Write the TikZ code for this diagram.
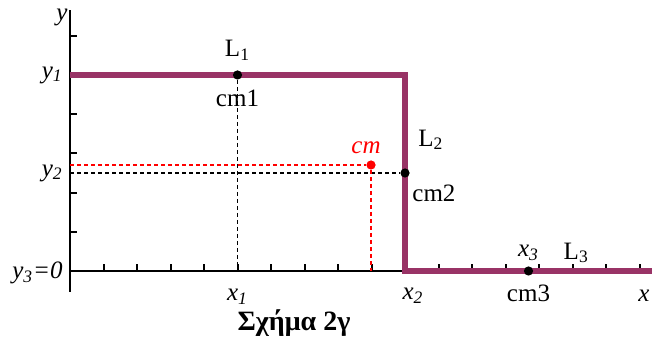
\documentclass[tikz,border=0pt]{standalone}
\usepackage{fontspec}
\setmainfont{Liberation Serif}
\usetikzlibrary{positioning}
\definecolor{rodpurple}{RGB}{153,51,102}
\definecolor{cmred}{RGB}{255,0,0}
\tikzset{
  axis/.style={
    line width=1.4pt
  },
  ticmark/.style={
    line width=1pt
  },
  rod/.style={
    draw=rodpurple,
    line width=3pt,
    line join=miter
  },
  guide/.style={
    dash pattern=on 2.2pt off 1.3pt,
    line width=0.75pt
  },
  masspoint/.style={
    circle,
    fill,
    inner sep=0pt,
    minimum size=4.6pt
  },
  lbl/.style={
    font=\fontsize{12.5}{14}\selectfont,
    inner sep=1pt
  }
}

\begin{document}
\begin{tikzpicture}[x=0.5pt,y=0.5pt]
\useasboundingbox (-70,-76) rectangle (582,271);

\coordinate (O) at (0,0);
\coordinate (ytop) at (0,261);
\coordinate (ybot) at (0,-21);
\coordinate (xend) at (582,0);

% axes and tick marks
\draw[axis] (ybot) -- (ytop);
\draw[axis] (O) -- (xend);
\foreach \k in {1,...,6}
  \draw[ticmark] (0,\k*39.2) -- ++(7,0);
\foreach \k in {1,...,17}
  \draw[ticmark] (\k*33.5,0) -- ++(0,7);

% the bent rod
\coordinate (A) at (0,196);
\coordinate (B) at (335,196);
\coordinate (C) at (335,0);
\draw[rod] (A) -- (B) -- (C) -- (xend);

\node[masspoint] (cm1) at (167.5,196) {};
\node[masspoint] (cm2) at (335,98) {};
\node[masspoint] (cm3) at (458.5,0) {};
\node[masspoint, cmred] (cm) at (301,106) {};

\draw[guide] (cm1) -- (cm1 |- O);
\draw[guide] (cm2 -| O) -- (cm2);
\draw[guide, cmred] (cm -| O) -- (cm) -- (cm |- O);

\node[lbl, above=3.5pt of cm1] (L1) {L\textsubscript{1}};
\node[lbl, below=4pt of cm1] (cm1lab) {cm1};
\node[lbl, right=3pt of cm2, yshift=16.5pt] (L2) {L\textsubscript{2}};
\node[lbl, right=0pt of cm2, yshift=-10pt] (cm2lab) {cm2};
\node[lbl, below=3.5pt of cm3] (cm3lab) {cm3};
\node[lbl, above=1.5pt of cm3] (x3) {\textit{x\textsubscript{3}}};
\node[lbl, right=10pt of x3] (L3) {L\textsubscript{3}};
\node[lbl, cmred, above=1.8pt of cm, xshift=-2.5pt] (cmlab) {\textit{cm}};

\node[lbl] (ylab) at (-8,254) {\textit{y}};
\node[lbl, anchor=east] (y1) at (-5,196) {\textit{y\textsubscript{1}}};
\node[lbl, anchor=east] (y2) at (-5,98) {\textit{y\textsubscript{2}}};
\node[lbl, anchor=east] (y3) at (-5,-2) {\textit{y\textsubscript{3}=0}};
\node[lbl] (x1) at (167.5,-26) {\textit{x\textsubscript{1}}};
\node[lbl] (x2) at (343,-25) {\textit{x\textsubscript{2}}};
\node[lbl] (xlab) at (574,-25) {\textit{x}};

\node[anchor=base, font=\fontsize{14}{16}\selectfont\bfseries] (title) at (224,-60) {Σχήμα 2γ};

\end{tikzpicture}
\end{document}
